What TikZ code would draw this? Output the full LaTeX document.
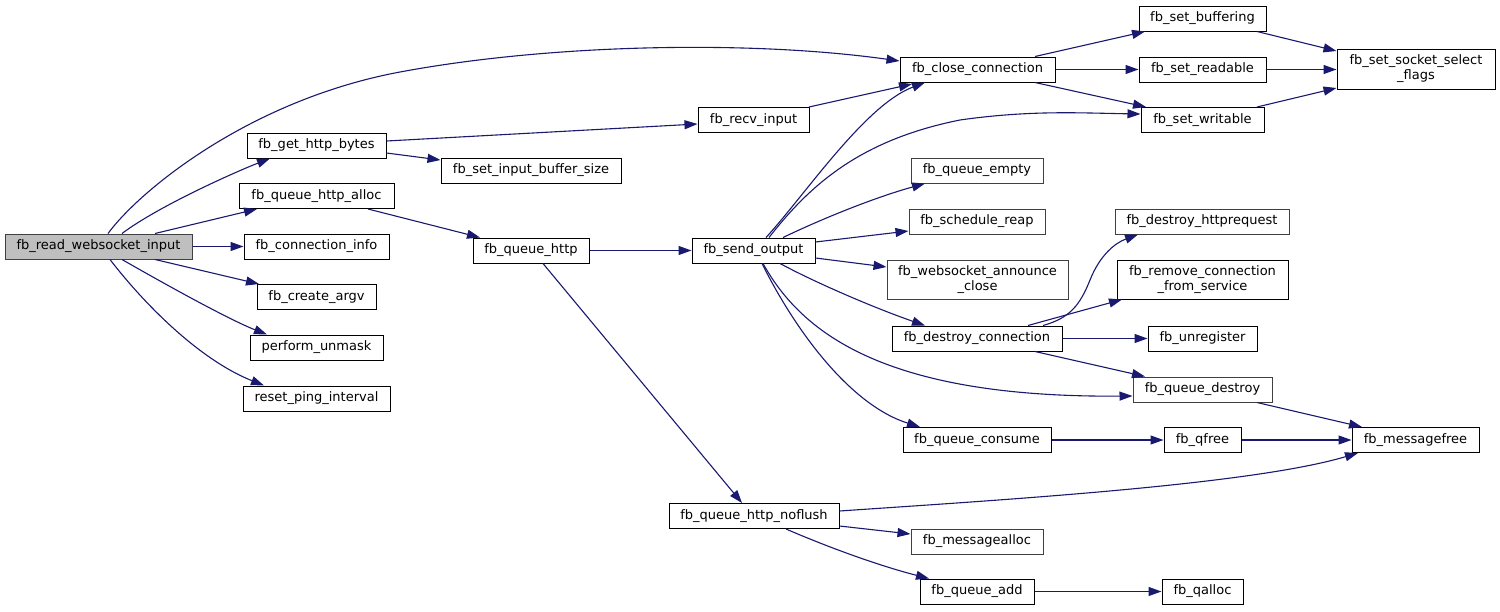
\documentclass[tikz,border=0pt]{standalone}
\usepackage{fontspec}
\setmainfont{DejaVu Sans}
\usetikzlibrary{arrows.meta}
\definecolor{edgeblue}{HTML}{191970}
\definecolor{boxgray}{HTML}{BFBFBF}
\definecolor{bordergray}{HTML}{404040}
\tikzset{
  fn/.style={draw=black, line width=1pt, rectangle, inner sep=0pt, minimum height=25pt,
             font=\fontsize{13}{15}\selectfont, align=center, fill=white},
  fntwo/.style={fn, minimum height=39pt},
  gb/.style={draw=bordergray},
  edge/.style={draw=edgeblue, line width=1.1pt, -{Triangle[length=13pt,width=9pt]}}
}
\begin{document}
\begin{tikzpicture}[x=1pt,y=-1pt]
\fill[white] (0,0) rectangle (1500,611);
\useasboundingbox (0,0) rectangle (1500,611);
% nodes
\node[fn, gb, fill=boxgray, minimum width=187pt] (read) at (98.5,246.5) {fb\_read\_websocket\_input};
\node[fn, minimum width=139pt] (gethttp) at (316.5,145.5) {fb\_get\_http\_bytes};
\node[fn, minimum width=155pt] (qha) at (316.5,196) {fb\_queue\_http\_alloc};
\node[fn, minimum width=145pt] (conninfo) at (316.5,246.5) {fb\_connection\_info};
\node[fn, minimum width=119pt] (createargv) at (316.5,297) {fb\_create\_argv};
\node[fn, minimum width=133pt] (unmask) at (316.5,347.5) {perform\_unmask};
\node[fn, minimum width=147pt] (resetping) at (316.5,398.5) {reset\_ping\_interval};
\node[fn, minimum width=111pt] (recv) at (753.5,120) {fb\_recv\_input};
\node[fn, minimum width=180pt] (setinbuf) at (531,170.5) {fb\_set\_input\_buffer\_size};
\node[fn, minimum width=116pt] (queuehttp) at (531,250.5) {fb\_queue\_http};
\node[fn, minimum width=123pt] (sendout) at (753.5,250.5) {fb\_send\_output};
\node[fn, minimum width=170pt] (noflush) at (754,516) {fb\_queue\_http\_noflush};
\node[fn, minimum width=155pt] (close) at (977.5,69.5) {fb\_close\_connection};
\node[fn, gb, minimum width=132pt] (qempty) at (977,170.5) {fb\_queue\_empty};
\node[fn, gb, minimum width=136pt] (sreap) at (977,221.5) {fb\_schedule\_reap};
\node[fntwo, gb, minimum width=181pt] (wsclose) at (977.5,279.5) {fb\_websocket\_announce\\\_close};
\node[fn, minimum width=170pt] (destroyconn) at (977,338.5) {fb\_destroy\_connection};
\node[fn, minimum width=148pt] (qconsume) at (977,440) {fb\_queue\_consume};
\node[fn, gb, minimum width=132pt] (msgalloc) at (977,541.5) {fb\_messagealloc};
\node[fn, minimum width=114pt] (qadd) at (977,591.5) {fb\_queue\_add};
\node[fn, minimum width=127pt] (setbuf) at (1202.5,18.5) {fb\_set\_buffering};
\node[fn, minimum width=127pt] (setread) at (1202.5,69.5) {fb\_set\_readable};
\node[fn, minimum width=123pt] (setwrite) at (1202.5,120) {fb\_set\_writable};
\node[fn, gb, minimum width=174pt] (httpreq) at (1202,221.5) {fb\_destroy\_httprequest};
\node[fntwo, minimum width=171pt] (removeconn) at (1202.5,279.5) {fb\_remove\_connection\\\_from\_service};
\node[fn, minimum width=109pt] (unreg) at (1202.5,338.5) {fb\_unregister};
\node[fn, gb, minimum width=139pt] (qdestroy) at (1202.5,389.5) {fb\_queue\_destroy};
\node[fn, minimum width=77pt] (qfree) at (1202.5,440) {fb\_qfree};
\node[fn, minimum width=81pt] (qallocn) at (1202.5,591.5) {fb\_qalloc};
\node[fntwo, minimum width=158pt, minimum height=40pt] (sssf) at (1416,69) {fb\_set\_socket\_select\\\_flags};
\node[fn, minimum width=127pt] (msgfree) at (1415.5,440) {fb\_messagefree};
% edges from fb_read_websocket_input
\draw[edge] (108,0 |- read.north) .. controls (140,190) and (250,100) .. (400,72)
            .. controls (550,44) and (750,40) .. (close.west |- 0,61);
\draw[edge] (122,0 |- read.north) .. controls (160,205) and (240,170) .. (270,0 |- gethttp.south);
\draw[edge] (155,0 |- read.north) -- (257,0 |- qha.south);
\draw[edge] (read.east) -- (conninfo.west);
\draw[edge] (155,0 |- read.south) -- (259,0 |- createargv.north);
\draw[edge] (122,0 |- read.south) .. controls (170,287) and (230,320) .. (267,0 |- unmask.north);
\draw[edge] (110,0 |- read.south) .. controls (145,305) and (200,360) .. (264,0 |- resetping.north);
% second column
\draw[edge] (gethttp.east |- 0,141) -- (recv.west |- 0,124);
\draw[edge] (gethttp.east |- 0,153) -- (setinbuf.west |- 0,160);
\draw[edge] (368,0 |- qha.south) -- (480,0 |- queuehttp.north);
\draw[edge] (queuehttp.east) -- (sendout.west);
\draw[edge] (543,0 |- queuehttp.south) -- (742,0 |- noflush.north);
\draw[edge] (809,0 |- recv.north) -- (912,84);
% fb_send_output
\draw[edge] (766,0 |- sendout.north) .. controls (805,195) and (865,105) .. (925,0 |- close.south);
\draw[edge] (769,0 |- sendout.north) .. controls (810,185) and (860,140) .. (960,120)
            .. controls (1030,110) and (1080,113) .. (setwrite.west |- 0,114);
\draw[edge] (783,0 |- sendout.north) .. controls (830,215) and (880,196) .. (925,0 |- qempty.south);
\draw[edge] (sendout.east |- 0,242) -- (sreap.west |- 0,231);
\draw[edge] (sendout.east |- 0,258) -- (wsclose.west |- 0,267);
\draw[edge] (780,0 |- sendout.south) .. controls (820,285) and (880,310) .. (925,0 |- destroyconn.north);
\draw[edge] (763,0 |- sendout.south) .. controls (800,330) and (880,398) .. (qdestroy.west |- 0,396);
\draw[edge] (762,0 |- sendout.south) .. controls (795,330) and (850,405) .. (920,0 |- qconsume.north);
% fb_close_connection
\draw[edge] (1035,0 |- close.north) -- (1145,0 |- setbuf.south);
\draw[edge] (close.east) -- (setread.west);
\draw[edge] (1035,0 |- close.south) -- (1146,0 |- setwrite.north);
\draw[edge] (1257,0 |- setbuf.south) -- (sssf.west |- 0,51);
\draw[edge] (setread.east) -- (sssf.west |- setread.east);
\draw[edge] (1257,0 |- setwrite.north) -- (sssf.west |- 0,88);
% fb_destroy_connection
\draw[edge] (1043,0 |- destroyconn.north) .. controls (1070,318) and (1080,305) .. (1090,280)
            .. controls (1100,255) and (1115,243) .. (1138,0 |- httpreq.south);
\draw[edge] (1028,0 |- destroyconn.north) -- (1122,0 |- removeconn.south);
\draw[edge] (destroyconn.east) -- (unreg.west);
\draw[edge] (1035,0 |- destroyconn.south) -- (1145,0 |- qdestroy.north);
\draw[edge] (1257,0 |- qdestroy.south) -- (1362,0 |- msgfree.north);
\draw[edge] (qconsume.east) -- (qfree.west);
\draw[edge] (qfree.east) -- (msgfree.west);
% fb_queue_http_noflush
\draw[edge] (noflush.east |- 0,511) .. controls (1000,500) and (1250,485) .. (1358,0 |- msgfree.south);
\draw[edge] (noflush.east |- 0,526) -- (msgalloc.west |- 0,534);
\draw[edge] (786,0 |- noflush.south) .. controls (830,548) and (880,566) .. (929,0 |- qadd.north);
\draw[edge] (qadd.east) -- (qallocn.west);
\end{tikzpicture}
\end{document}
